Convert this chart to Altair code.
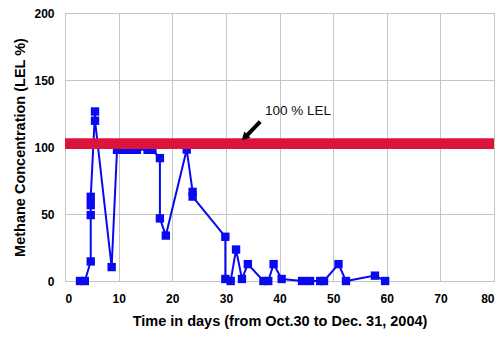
import altair as alt
import pandas as pd

# Measured series (time in days, methane concentration LEL %)
days = [2.8, 3.7, 4.8, 4.8, 4.8, 4.8, 5.6, 5.6, 8.7, 9.7, 10.6, 11.5, 12.5, 13.4,
        15.4, 16.3, 17.7, 17.7, 18.8, 22.7, 23.8, 23.8, 29.9, 29.9, 30.9, 31.9,
        33.0, 34.1, 37.0, 37.9, 38.9, 40.4, 44.2, 45.7, 47.6, 48.3, 51.0, 52.4,
        57.8, 59.7]
lel = [0, 0, 14.6, 49.2, 56.6, 62.8, 126.5, 119.6, 10.4, 97.9, 97.9, 97.9, 97.9, 97.9,
       97.9, 97.9, 91.7, 46.7, 33.9, 98.1, 66.5, 63.0, 33.0, 1.5, 0, 23.5,
       1.5, 12.6, 0, 0, 12.6, 1.5, 0, 0, 0, 0, 12.6, 0,
       4.0, 0]

# Reference band (100 % LEL)
band_low = [98.6]
band_high = [106.6]
band_x = [0]
band_x2 = [80]

# Annotation
ann_text = ["100 % LEL"]
ann_x = [37.3]
ann_y = [127.0]
arrow_x = [36.4]
arrow_y = [118.9]
arrow_x2 = [33.4]
arrow_y2 = [106.5]
head_x = [33.5]
head_y = [107.2]

x_ticks = list(range(0, 81, 5))
y_ticks = [0, 50, 100, 150, 200]

df = pd.DataFrame({"day": days, "lel": lel, "idx": list(range(len(days)))})
band = pd.DataFrame({"x": band_x, "x2": band_x2, "y": band_low, "y2": band_high})
ann = pd.DataFrame({"x": ann_x, "y": ann_y, "t": ann_text})
arr = pd.DataFrame({"x": arrow_x, "y": arrow_y, "x2": arrow_x2, "y2": arrow_y2})
head = pd.DataFrame({"x": head_x, "y": head_y})

FONT = "Liberation Sans"
BLUE = "#0A0AF0"

xs = alt.Scale(domain=[0, 80], nice=False)
ys = alt.Scale(domain=[0, 200], nice=False)

x_axis = alt.Axis(values=x_ticks, labelExpr="datum.value % 10 == 0 ? datum.label : ''",
                  title="Time in days (from Oct.30 to Dec. 31, 2004)",
                  ticks=False, domain=False, grid=True, gridColor="#c4c4c4",
                  labelFont=FONT, labelFontSize=12, labelFontWeight="bold", labelColor="#000",
                  labelPadding=12, titleFont=FONT, titleFontSize=14.5, titleFontWeight="bold",
                  titleColor="#000", titlePadding=10)
y_axis = alt.Axis(values=y_ticks, title="Methane Concentration (LEL %)",
                  ticks=False, domain=False, grid=True, gridColor="#c4c4c4",
                  labelFont=FONT, labelFontSize=12, labelFontWeight="bold", labelColor="#000",
                  labelPadding=11, titleFont=FONT, titleFontSize=14.5, titleFontWeight="bold",
                  titleColor="#000", titlePadding=6)

base = alt.Chart(df)
line = base.mark_line(color=BLUE, strokeWidth=2).encode(
    x=alt.X("day:Q", scale=xs, axis=x_axis),
    y=alt.Y("lel:Q", scale=ys, axis=y_axis),
    order="idx:Q",
)
pts = base.mark_point(shape="square", filled=True, size=70, color=BLUE, opacity=1).encode(
    x=alt.X("day:Q", scale=xs), y=alt.Y("lel:Q", scale=ys)
)
redband = alt.Chart(band).mark_rect(color="#DC143C").encode(
    x=alt.X("x:Q", scale=xs), x2="x2:Q", y=alt.Y("y:Q", scale=ys), y2="y2:Q"
)
arrow = alt.Chart(arr).mark_rule(color="#000", strokeWidth=4).encode(
    x=alt.X("x:Q", scale=xs), y=alt.Y("y:Q", scale=ys), x2="x2:Q", y2="y2:Q"
)
arrowhead = alt.Chart(head).mark_point(shape="triangle-up", filled=True, size=80,
                                       color="#000", opacity=1, angle=225).encode(
    x=alt.X("x:Q", scale=xs), y=alt.Y("y:Q", scale=ys)
)
label = alt.Chart(ann).mark_text(align="left", baseline="middle", font=FONT,
                                 fontSize=13.5, color="#111").encode(
    x=alt.X("x:Q", scale=xs), y=alt.Y("y:Q", scale=ys), text="t:N"
)

chart = alt.layer(line, pts, redband, arrow, arrowhead, label).properties(
    width=429, height=268,
    autosize=alt.AutoSizeParams(type="none"),
    padding={"left": 57, "top": 5, "right": 1, "bottom": 48},
).configure_view(stroke="#808080", strokeWidth=1).configure(background="white")

chart.save("out.html", embed_options={"renderer": "svg", "actions": False})
